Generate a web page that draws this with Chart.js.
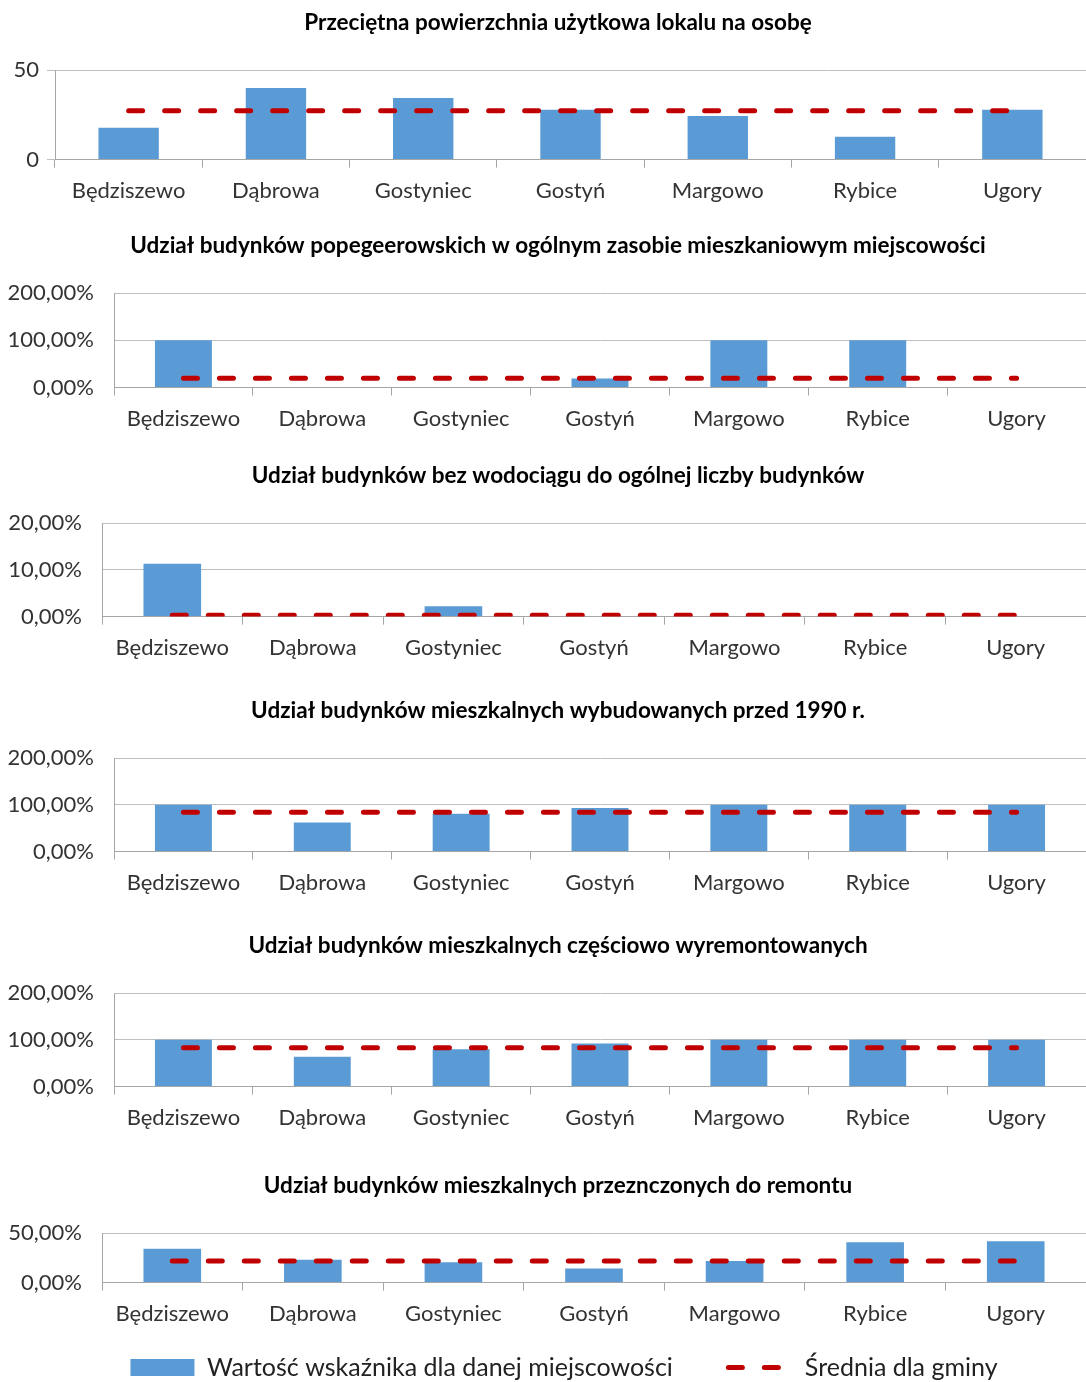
<!DOCTYPE html>
<html>
<head>
<meta charset="utf-8">
<script src="https://cdn.jsdelivr.net/npm/chart.js@4/dist/chart.umd.min.js"></script>
<style>
    body { margin: 0; background: #fff; width: 1086px; height: 1382px; position: relative; overflow: hidden; }
    .box { position: absolute; left: 0; width: 1086px; }
</style>
</head>
<body>
<div class="box" style="top:0px;height:214px"><canvas id="w1"></canvas></div>
<div class="box" style="top:223px;height:219px"><canvas id="w2"></canvas></div>
<div class="box" style="top:453px;height:218px"><canvas id="w3"></canvas></div>
<div class="box" style="top:688px;height:218px"><canvas id="w4"></canvas></div>
<div class="box" style="top:923px;height:218px"><canvas id="w5"></canvas></div>
<div class="box" style="top:1163px;height:227px"><canvas id="w6"></canvas></div>
<script>
// Miejscowości (kategorie)
var miejscowosci = ['Będziszewo', 'Dąbrowa', 'Gostyniec', 'Gostyń', 'Margowo', 'Rybice', 'Ugory'];

// Przeciętna powierzchnia użytkowa lokalu na osobę
var powierzchnia = [17.8, 40, 34.4, 27.8, 24.4, 12.8, 27.8];
var powierzchniaGmina = [27.2, 27.2, 27.2, 27.2, 27.2, 27.2, 27.2];

// Udział budynków popegeerowskich (%)
var popegeerowskie = [100, 0, 0, 19, 100, 100, 0];
var popegeerowskieGmina = [20, 20, 20, 20, 20, 20, 20];

// Udział budynków bez wodociągu (%)
var bezWodociagu = [11.3, 0, 2.2, 0, 0, 0, 0];
var bezWodociaguGmina = [0.3, 0.3, 0.3, 0.3, 0.3, 0.3, 0.3];

// Budynki wybudowane przed 1990 r. (%)
var przed1990 = [100, 62, 81, 93, 100, 100, 100];
var przed1990Gmina = [84, 84, 84, 84, 84, 84, 84];

// Budynki częściowo wyremontowane (%)
var wyremontowane = [100, 64, 80, 92, 100, 100, 100];
var wyremontowaneGmina = [83, 83, 83, 83, 83, 83, 83];

// Budynki przeznaczone do remontu (%)
var doRemontu = [34.2, 23, 20.4, 14.1, 21.7, 40.8, 41.8];
var doRemontuGmina = [21.7, 21.7, 21.7, 21.7, 21.7, 21.7, 21.7];

var tytuly = [
    'Przeciętna powierzchnia użytkowa lokalu na osobę',
    'Udział budynków popegeerowskich w ogólnym zasobie mieszkaniowym miejscowości',
    'Udział budynków bez wodociągu do ogólnej liczby budynków',
    'Udział budynków mieszkalnych wybudowanych przed 1990 r.',
    'Udział budynków mieszkalnych częściowo wyremontowanych',
    'Udział budynków mieszkalnych przeznczonych do remontu'
];

var FONT = 'Lato';
var niebieski = '#5B9BD5';
var czerwony = '#C00000';
var kreska = [14, 22];

function procent(v) {
    return Number(v).toFixed(2).replace('.', ',') + '%';
}
function zwykla(v) {
    return String(v);
}

// Tytuł i legenda są w oryginale lekko przesunięte w prawo (wyśrodkowane nad obszarem wykresu)
var przesuniecie = {
    id: 'przesuniecie',
    afterLayout: function (chart) {
        if (chart.titleBlock) {
            chart.titleBlock.left += 15;
            chart.titleBlock.right += 15;
        }
        if (chart.legend && chart.legend.options.display) {
            chart.legend.left += 21;
            chart.legend.right += 21;
        }
    }
};

// Legenda: linia średniej ma być przerywana jak na wykresie
function etykiety(chart) {
    var items = Chart.defaults.plugins.legend.labels.generateLabels(chart);
    items.forEach(function (it) {
        if (it.datasetIndex === 0) {
            it.text = it.text + '\u2003\u2003'; // odstęp między pozycjami legendy
        }
        if (it.datasetIndex === 1) {
            it.lineDash = kreska;
            it.lineCap = 'round';
            it.lineWidth = 5;
            it.strokeStyle = czerwony;
        }
    });
    return items;
}

// Rysuje jeden wykres słupkowy z linią średniej
function wykres(id, tytul, wartosci, srednia, max, krok, osX, format, kreskiY, legenda) {
    new Chart(document.getElementById(id), {
        type: 'bar',
        plugins: [przesuniecie],
        data: {
            labels: miejscowosci,
            datasets: [{
                type: 'bar',
                label: 'Wartość wskaźnika dla danej miejscowości',
                data: wartosci,
                backgroundColor: niebieski,
                barPercentage: 0.41,
                categoryPercentage: 1,
                pointStyle: 'rect',
                order: 1
            }, {
                type: 'line',
                label: 'Średnia dla gminy',
                data: srednia,
                borderColor: czerwony,
                backgroundColor: czerwony,
                borderWidth: 5,
                borderDash: kreska,
                borderCapStyle: 'round',
                pointRadius: 0,
                pointStyle: 'line',
                order: 0
            }]
        },
        options: {
            responsive: true,
            maintainAspectRatio: false,
            animation: false,
            layout: { padding: 0 },
            plugins: {
                title: {
                    display: true,
                    text: tytul,
                    color: '#000',
                    font: { family: FONT, size: 22.5, weight: 'bold' },
                    padding: { top: 9, bottom: 34 }
                },
                legend: {
                    display: legenda,
                    position: 'bottom',
                    labels: {
                        usePointStyle: true,
                        pointStyleWidth: 64,
                        boxHeight: 17,
                        padding: 18,
                        color: '#222',
                        font: { family: FONT, size: 25 },
                        generateLabels: etykiety,
                        sort: function (a, b) { return a.datasetIndex - b.datasetIndex; }
                    }
                },
                tooltip: { enabled: false }
            },
            scales: {
                x: {
                    offset: true,
                    grid: { display: true, drawOnChartArea: false, drawTicks: true, tickLength: 8, color: '#A6A6A6', offset: true },
                    border: { color: '#A6A6A6' },
                    ticks: { color: '#333', padding: 10, maxRotation: 0, autoSkip: false, font: { family: FONT, size: 22 } }
                },
                y: {
                    min: 0,
                    max: max,
                    grid: { color: '#BFBFBF', drawTicks: kreskiY, tickLength: 8 },
                    border: { color: '#A6A6A6' },
                    ticks: { stepSize: krok, callback: format, color: '#333', padding: kreskiY ? 8 : 20, font: { family: FONT, size: 22 } },
                    afterFit: function (s) { s.width = osX; }
                }
            }
        }
    });
}

wykres('w1', tytuly[0], powierzchnia, powierzchniaGmina, 50, 50, 55, zwykla, true, false);
wykres('w2', tytuly[1], popegeerowskie, popegeerowskieGmina, 200, 100, 114, procent, false, false);
wykres('w3', tytuly[2], bezWodociagu, bezWodociaguGmina, 20, 10, 102, procent, false, false);
wykres('w4', tytuly[3], przed1990, przed1990Gmina, 200, 100, 114, procent, false, false);
wykres('w5', tytuly[4], wyremontowane, wyremontowaneGmina, 200, 100, 114, procent, false, false);
wykres('w6', tytuly[5], doRemontu, doRemontuGmina, 50, 50, 102, procent, false, true);
</script>
</body>
</html>
